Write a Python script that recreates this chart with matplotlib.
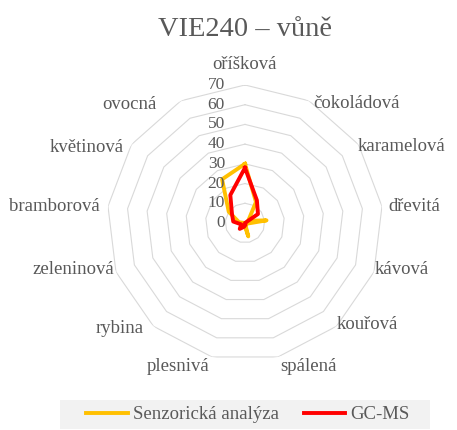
import numpy as np
import matplotlib.pyplot as plt
from matplotlib.patches import Rectangle
from matplotlib.transforms import offset_copy

kategorie = ['oříšková', 'čokoládová', 'karamelová', 'dřevitá', 'kávová', 'kouřová',
             'spálená', 'plesnivá', 'rybina', 'zeleninová', 'bramborová', 'květinová', 'ovocná']
senzoricka = [30, 12, 2, 11, 1, 0, 7, 1, 0, 0, 3, 10, 25]
gcms = [28, 13, 8, 0, 0, 0, 1, 2, 4, 2, 6, 8, 16]
urovne = [0, 10, 20, 30, 40, 50, 60, 70]

plt.rcParams['font.family'] = ['Liberation Serif', 'DejaVu Serif']
seda = '#595959'

fig = plt.figure(figsize=(4.57, 4.30), dpi=100)
ax = fig.add_axes([0.2341, 0.1605, 0.6039, 0.6419], projection='polar')
ax.set_theta_zero_location('N')
ax.set_theta_direction(-1)
ax.set_ylim(0, urovne[-1])
ax.axis('off')

uhly = np.arange(len(kategorie)) * 2 * np.pi / len(kategorie)
uhly_z = np.append(uhly, uhly[0])

# mnohouhelníková mřížka
for u in urovne[1:]:
    ax.plot(uhly_z, [u] * len(uhly_z), color='#d9d9d9', lw=0.8, zorder=1)

l1, = ax.plot(uhly_z, senzoricka + senzoricka[:1], color='#FFC000', lw=2.8,
              solid_joinstyle='round', zorder=3)
l2, = ax.plot(uhly_z, gcms + gcms[:1], color='#FF0000', lw=2.8,
              solid_joinstyle='round', zorder=4)

# popisky osy hodnot
tr_r = offset_copy(ax.transData, fig, x=-20, y=0, units='dots')
for u in urovne:
    ax.text(0, u, str(u), transform=tr_r, ha='right', va='center',
            fontsize=12.5, color=seda)

# popisky kategorií – posun od vrcholu v pixelech
posun_x = [0, 4, -1, 6, 1, 0, 2, -2, -10, -2, -8, -8, -24]
posun_y = [12, -3, -2, 0, 2, 2, -1, -1, -2, 2, 0, -3, -4]
for t, nazev, dx, dy in zip(uhly, kategorie, posun_x, posun_y):
    s, c = np.sin(t), np.cos(t)
    if abs(s) < 0.1:
        ha, va = 'center', 'bottom'
    elif c < -0.9:
        ha, va = ('left' if s > 0 else 'right'), 'top'
    else:
        ha, va = ('left' if s > 0 else 'right'), 'center'
    tr = offset_copy(ax.transData, fig, x=dx, y=dy, units='dots')
    ax.text(t, urovne[-1], nazev, transform=tr, ha=ha, va=va,
            fontsize=13.5, color=seda)

fig.text(245 / 457, 1 - 30 / 430, 'VIE240 – vůně', ha='center', va='center',
         fontsize=20.5, color=seda)

fig.patches.append(Rectangle((60 / 457, 1 / 430), 370 / 457, 29 / 430,
                             transform=fig.transFigure, facecolor='#f2f2f2',
                             edgecolor='none', zorder=0))
fig.legend([l1, l2], ['Senzorická analýza', 'GC-MS'], loc='center',
           bbox_to_anchor=(248 / 457, 1 - 414.5 / 430), ncol=2, frameon=False,
           fontsize=13.5, labelcolor=seda, handlelength=2.2, handletextpad=0.3,
           columnspacing=1.3)

fig.savefig('out.png', dpi=100)
